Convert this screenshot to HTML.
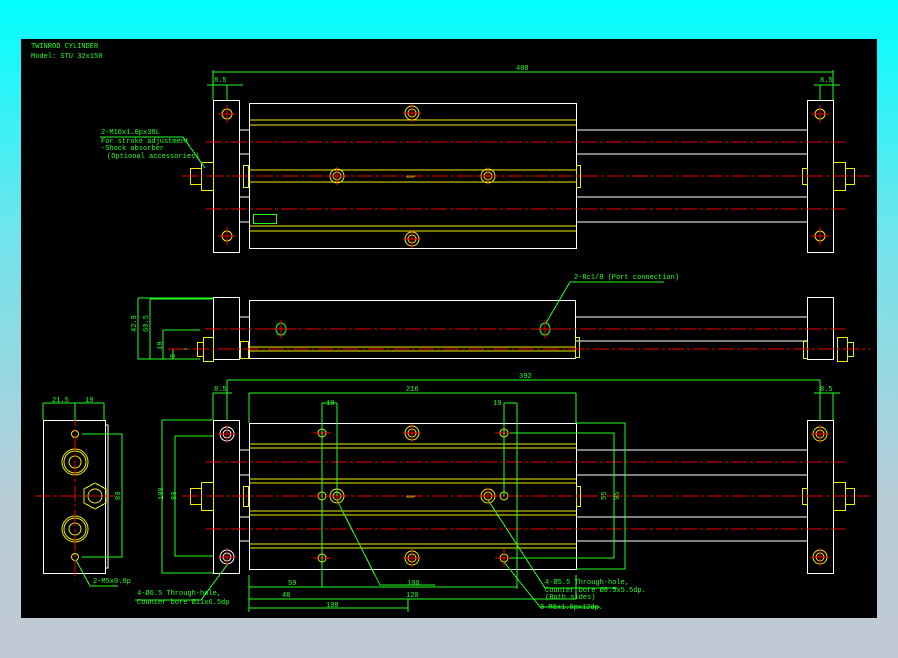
<!DOCTYPE html>
<html><head><meta charset="utf-8"><style>
html,body{margin:0;padding:0;width:898px;height:658px;overflow:hidden;background:linear-gradient(#00ffff 0%,#6fe4ec 35%,#b7cdd8 75%,#c1c9d4 100%);}
svg{position:absolute;left:0;top:0}
path,rect,line,polygon{shape-rendering:crispEdges}
text{font-family:"Liberation Mono",monospace;fill:#2f2;font-size:7px}
</style></head><body>
<svg width="898" height="658" viewBox="0 0 898 658">
<rect x="21" y="39" width="856" height="579" fill="#000"/>
<defs>
<g id="ch"><line x1="-9" y1="0" x2="9" y2="0" stroke="#e00" stroke-width="1"/><line x1="0" y1="-9" x2="0" y2="9" stroke="#e00" stroke-width="1"/></g>
</defs>
<g fill="none" stroke-width="1">
<text x="31" y="48">TWINROD CYLINDER</text>
<text x="31" y="58">Model: STU 32x150</text>

<g stroke="#fff">
<rect x="213.5" y="100.5" width="26" height="152"/>
<rect x="249.5" y="103.5" width="327" height="145"/>
<rect x="807.5" y="100.5" width="26" height="152"/>
<path d="M239 130H249M239 154H249M239 197H249M239 222H249"/>
<path d="M576 130H807M576 154H807M576 197H807M576 222H807"/>
</g>
<g stroke="#ee0">
<path d="M249 120H576M249 125H576M249 226H576M249 231H576M249 170H576M249 182H576"/>
<rect x="243.5" y="165.5" width="5" height="22"/><rect x="576.5" y="165.5" width="4" height="22"/>
<rect x="802.5" y="168.5" width="5" height="16"/>
<rect x="201.5" y="162.5" width="12" height="28"/><rect x="190.5" y="168.5" width="11" height="16"/>
<rect x="833.5" y="162.5" width="12" height="28"/><rect x="845.5" y="168.5" width="9" height="16"/>
<circle cx="227" cy="114" r="5"/><circle cx="227" cy="236" r="5"/>
<circle cx="820" cy="114" r="5"/><circle cx="820" cy="236" r="5"/>
<circle cx="412" cy="113" r="7"/><circle cx="412" cy="113" r="4"/>
<circle cx="412" cy="239" r="7"/><circle cx="412" cy="239" r="4"/>
<circle cx="337" cy="176" r="7"/><circle cx="337" cy="176" r="4"/>
<circle cx="488" cy="176" r="7"/><circle cx="488" cy="176" r="4"/>
</g>
<g stroke="#e00" stroke-dasharray="16 3 3 3">
<path d="M206 142H845M182 176H870M206 209H845"/>
</g>
<use href="#ch" x="227" y="114"/><use href="#ch" x="227" y="236"/><use href="#ch" x="820" y="114"/><use href="#ch" x="820" y="236"/>
<use href="#ch" x="412" y="113"/><use href="#ch" x="412" y="239"/><use href="#ch" x="337" y="176"/><use href="#ch" x="488" y="176"/>
<rect x="253.5" y="214.5" width="23" height="9" stroke="#2f2"/>
<text x="406" y="178" style="font-size:4px;fill:#ee0">SNOP</text>
<g stroke="#2f2">
<path d="M213 72H833M213 70V100M833 70V100M207 85H243M227 85V100M814 85H840M820 85V100"/>
<path d="M100 137H183L205 168"/>
</g>
<text x="516" y="70">408</text>
<text x="214" y="82">8.5</text><text x="820" y="82">8.5</text>
<text x="101" y="134">2-M10x1.0px38L</text>
<text x="101" y="143">For stroke adjustment</text>
<text x="101" y="150">-Shock absorber</text>
<text x="107" y="158">(Optional accessories)</text>

<g stroke="#fff">
<rect x="213.5" y="297.5" width="26" height="62"/>
<rect x="249.5" y="300.5" width="326" height="58"/>
<rect x="807.5" y="297.5" width="26" height="62"/>
<path d="M575 317H807M575 341H807M239 317H249"/>
</g>
<g stroke="#ee0">
<path d="M249 347H575M249 351H575"/>
<rect x="240.5" y="341.5" width="8" height="17"/><rect x="575.5" y="337.5" width="4" height="20"/>
<rect x="203.5" y="337.5" width="10" height="24"/><rect x="197.5" y="342.5" width="6" height="14"/>
<rect x="803.5" y="341.5" width="4" height="17"/>
<rect x="837.5" y="337.5" width="10" height="24"/><rect x="847.5" y="342.5" width="6" height="14"/>
</g>
<g stroke="#2f2">
<ellipse cx="281" cy="329" rx="5" ry="6"/><ellipse cx="545" cy="329" rx="5" ry="6"/>
<path d="M138 298H213M138 298V359M150 299H213M150 299V359M163 330H200M163 330V359M173 349H190M173 349V359M138 359H200"/>
<path d="M546 323L570 282H664"/>
</g>
<g stroke="#e00" stroke-dasharray="16 3 3 3"><path d="M205 329H845M168 349H870"/></g>
<use href="#ch" x="281" y="329"/><use href="#ch" x="545" y="329"/>
<text x="574" y="279">2-Rc1/8 (Port connection)</text>
<text transform="translate(136,332) rotate(-90)">42.9</text>
<text transform="translate(148,332) rotate(-90)">60.5</text>
<text transform="translate(162,350) rotate(-90)">19</text>
<text transform="translate(175,358) rotate(-90)">6</text>

<g stroke="#fff">
<rect x="213.5" y="420.5" width="26" height="153"/>
<rect x="249.5" y="423.5" width="327" height="146"/>
<rect x="807.5" y="420.5" width="26" height="153"/>
<path d="M239 450H249M239 475H249M239 517H249M239 541H249"/>
<path d="M576 450H807M576 475H807M576 517H807M576 541H807"/>
</g>
<g stroke="#ee0">
<path d="M249 444H576M249 448H576M249 479H576M249 483H576M249 511H576M249 515H576M249 544H576M249 548H576"/>
<rect x="243.5" y="486.5" width="5" height="20"/><rect x="576.5" y="486.5" width="4" height="20"/>
<rect x="802.5" y="488.5" width="5" height="16"/>
<rect x="201.5" y="482.5" width="12" height="28"/><rect x="190.5" y="488.5" width="11" height="16"/>
<rect x="833.5" y="482.5" width="12" height="28"/><rect x="845.5" y="488.5" width="9" height="16"/>
<circle cx="820" cy="434" r="7"/><circle cx="820" cy="434" r="4"/>
<circle cx="820" cy="557" r="7"/><circle cx="820" cy="557" r="4"/>
<circle cx="412" cy="433" r="7"/><circle cx="412" cy="433" r="4"/>
<circle cx="412" cy="558" r="7"/><circle cx="412" cy="558" r="4"/>
<circle cx="337" cy="496" r="7"/><circle cx="337" cy="496" r="4"/>
<circle cx="488" cy="496" r="7"/><circle cx="488" cy="496" r="4"/>
<circle cx="322" cy="433" r="4"/><circle cx="322" cy="558" r="4"/><circle cx="322" cy="496" r="4"/>
<circle cx="504" cy="433" r="4"/><circle cx="504" cy="558" r="4"/><circle cx="504" cy="496" r="4"/>
</g>
<g stroke="#fff"><circle cx="227" cy="434" r="7"/><circle cx="227" cy="434" r="4"/><circle cx="227" cy="557" r="7"/><circle cx="227" cy="557" r="4"/></g>
<g stroke="#e00" stroke-dasharray="16 3 3 3"><path d="M206 462H845M182 496H870M206 529H845"/></g>
<use href="#ch" x="227" y="434"/><use href="#ch" x="227" y="557"/><use href="#ch" x="820" y="434"/><use href="#ch" x="820" y="557"/>
<use href="#ch" x="412" y="433"/><use href="#ch" x="412" y="558"/><use href="#ch" x="337" y="496"/><use href="#ch" x="488" y="496"/>
<use href="#ch" x="322" y="433"/><use href="#ch" x="322" y="558"/><use href="#ch" x="504" y="433"/><use href="#ch" x="504" y="558"/>
<text x="406" y="498" style="font-size:4px;fill:#ee0">SNOP</text>
<g stroke="#2f2">
<path d="M227 380H820M227 380V420M820 380V420"/>
<path d="M249 393H576M249 393V423M576 393V423"/>
<path d="M213 393H232M213 393V420M814 393H840M833 393V420"/>
<path d="M162 420H213M162 420V573H213M175 436H213M175 436V556H213"/>
<path d="M322 403H337M322 403V587M337 403V496M504 403H517M504 403V496M517 403V589"/>
<path d="M576 423H625V569H576M510 433H614V558H510"/>
<path d="M249 575V612M249 587H337M337 587H517M249 599H322M322 599H576V575M249 608H408M408 599V612"/>
<path d="M227 565L201 600H135M337 500L380 585H435M488 500L545 588H617M504 562L540 607H600"/>
</g>
<text x="519" y="378">392</text>
<text x="406" y="391">216</text>
<text x="214" y="391">8.5</text><text x="820" y="391">8.5</text>
<text x="326" y="405">10</text><text x="493" y="405">10</text>
<text x="288" y="585">59</text><text x="407" y="585">100</text>
<text x="282" y="597">48</text><text x="406" y="597">120</text>
<text x="326" y="607">108</text>
<text transform="translate(163,500) rotate(-90)">100</text>
<text transform="translate(176,500) rotate(-90)">80</text>
<text transform="translate(606,500) rotate(-90)">55</text>
<text transform="translate(619,500) rotate(-90)">95</text>
<text x="137" y="595">4-Ø6.5 Through-hole,</text>
<text x="137" y="604">Counter bore Ø11x6.5dp</text>
<text x="545" y="584">4-Ø5.5 Through-hole,</text>
<text x="545" y="592">Counter bore Ø8.5x5.5dp.</text>
<text x="545" y="599">(Both sides)</text>
<text x="540" y="609">8-M6x1.0px12dp.</text>

<g stroke="#fff">
<rect x="43.5" y="420.5" width="62" height="153"/>
<path d="M105 425H108V568H105"/>
</g>
<g stroke="#ee0">
<circle cx="75" cy="434" r="3.5"/><circle cx="75" cy="557" r="3.5"/>
<circle cx="75" cy="462" r="13"/><circle cx="75" cy="462" r="11"/><circle cx="75" cy="462" r="6"/>
<circle cx="75" cy="529" r="13"/><circle cx="75" cy="529" r="11"/><circle cx="75" cy="529" r="6"/>
<polygon points="95,483 106,489 106,503 95,509 84,503 84,489"/><circle cx="95" cy="496" r="7"/>
</g>
<g stroke="#e00" stroke-dasharray="16 3 3 3"><path d="M35 496H115M75 410V580"/></g>
<g stroke="#2f2">
<path d="M43 403H104M43 403V420M104 403V420M75 403V420"/>
<path d="M82 434H122V557H82"/>
<path d="M76 560L90 586H118"/>
</g>
<text x="52" y="402">21.5</text><text x="85" y="402">19</text>
<text transform="translate(120,500) rotate(-90)">80</text>
<text x="93" y="583">2-M5x0.8p</text>
</g>
</svg>
</body></html>
